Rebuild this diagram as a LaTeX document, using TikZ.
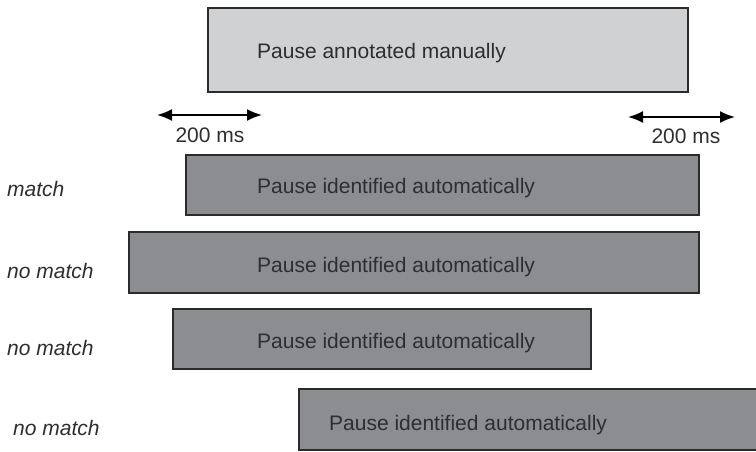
\documentclass[tikz,border=0pt]{standalone}
\usepackage{fontspec}
\setmainfont{Liberation Sans}
\usetikzlibrary{arrows.meta}
\definecolor{manfill}{HTML}{D0D1D3}
\definecolor{autofill}{HTML}{8C8D91}
\definecolor{edgecol}{HTML}{2B2B2B}
\definecolor{inkcol}{HTML}{2E2E2E}
\begin{document}
\begin{tikzpicture}[x=1pt, y=-1pt,
  every node/.style={font=\fontsize{21}{25}\selectfont, text=inkcol, inner sep=0pt},
  pausebox/.style={draw=edgecol, line width=2.4pt, anchor=north west, inner sep=0pt},
  manualbox/.style={pausebox, fill=manfill},
  autobox/.style={pausebox, fill=autofill},
  boxtext/.style={anchor=base west},
  rowlabel/.style={anchor=base west, font=\fontsize{21}{25}\selectfont\itshape},
  span/.style={line width=1.8pt, draw=black, {Latex[length=15pt,width=12pt]}-{Latex[length=15pt,width=12pt]}}
]
\useasboundingbox (0,0) rectangle (756,451);

% manually annotated pause
\node (man) [manualbox, minimum width=480pt, minimum height=84pt] at (207,7) {};
\node (mant) [boxtext] at (257,58) {Pause annotated manually};

% 200 ms tolerance on both ends
\coordinate (la) at (157,115);
\coordinate (lb) at (262,115);
\draw[span] (la) -- (lb);
\node (ltxt) [anchor=base] at (210,142) {200 ms};
\coordinate (ra) at (628,117);
\coordinate (rb) at (735,117);
\draw[span] (ra) -- (rb);
\node (rtxt) [anchor=base] at (686,143) {200 ms};

% automatically identified pauses
\node (a1) [autobox, minimum width=513pt, minimum height=60pt] at (185,154) {};
\node (a1t) [boxtext] at (257,193) {Pause identified automatically};
\node (l1) [rowlabel] at (7,196) {match};

\node (a2) [autobox, minimum width=570pt, minimum height=61pt] at (128,231) {};
\node (a2t) [boxtext] at (257,272) {Pause identified automatically};
\node (l2) [rowlabel] at (7,278) {no match};

\node (a3) [autobox, minimum width=418pt, minimum height=60pt] at (172,308) {};
\node (a3t) [boxtext] at (257,348) {Pause identified automatically};
\node (l3) [rowlabel] at (7,355) {no match};

\node (a4) [autobox, minimum width=480pt, minimum height=61pt] at (298,388) {};
\node (a4t) [boxtext] at (329,430) {Pause identified automatically};
\node (l4) [rowlabel] at (13,435) {no match};
\end{tikzpicture}
\end{document}
